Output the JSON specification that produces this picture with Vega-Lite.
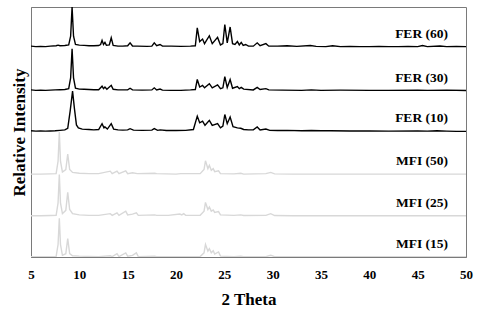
{
"$schema": "https://vega.github.io/schema/vega-lite/v6.json",
"width": 435, "height": 250,
"autosize": {"type": "none"},
"padding": {"left": 31, "top": 7, "right": 14, "bottom": 57},
"background": "white",
"config": {"view": {"stroke": "#7a7a7a", "strokeWidth": 1}, "font": "Liberation Serif"},
"data": {"values": [
{"s":"FER (60)","x":5.0,"y":5.06},{"s":"FER (60)","x":5.5,"y":5.05},{"s":"FER (60)","x":6.0,"y":5.055},{"s":"FER (60)","x":6.5,"y":5.05},{"s":"FER (60)","x":7.0,"y":5.06},{"s":"FER (60)","x":7.6,"y":5.07},{"s":"FER (60)","x":7.8,"y":5.085},{"s":"FER (60)","x":8.0,"y":5.07},{"s":"FER (60)","x":8.5,"y":5.075},{"s":"FER (60)","x":8.9,"y":5.09},{"s":"FER (60)","x":9.1,"y":5.3},{"s":"FER (60)","x":9.25,"y":6.0},{"s":"FER (60)","x":9.4,"y":5.3},{"s":"FER (60)","x":9.6,"y":5.1},{"s":"FER (60)","x":10.0,"y":5.085},{"s":"FER (60)","x":10.5,"y":5.08},{"s":"FER (60)","x":11.0,"y":5.07},{"s":"FER (60)","x":11.5,"y":5.07},{"s":"FER (60)","x":12.0,"y":5.075},{"s":"FER (60)","x":12.2,"y":5.1},{"s":"FER (60)","x":12.35,"y":5.2},{"s":"FER (60)","x":12.5,"y":5.1},{"s":"FER (60)","x":12.65,"y":5.15},{"s":"FER (60)","x":12.8,"y":5.08},{"s":"FER (60)","x":13.1,"y":5.09},{"s":"FER (60)","x":13.3,"y":5.26},{"s":"FER (60)","x":13.5,"y":5.08},{"s":"FER (60)","x":14.0,"y":5.06},{"s":"FER (60)","x":14.5,"y":5.06},{"s":"FER (60)","x":15.0,"y":5.07},{"s":"FER (60)","x":15.25,"y":5.14},{"s":"FER (60)","x":15.5,"y":5.065},{"s":"FER (60)","x":16.0,"y":5.06},{"s":"FER (60)","x":17.0,"y":5.055},{"s":"FER (60)","x":17.5,"y":5.06},{"s":"FER (60)","x":17.75,"y":5.14},{"s":"FER (60)","x":18.0,"y":5.07},{"s":"FER (60)","x":18.35,"y":5.1},{"s":"FER (60)","x":18.6,"y":5.06},{"s":"FER (60)","x":19.5,"y":5.06},{"s":"FER (60)","x":20.5,"y":5.055},{"s":"FER (60)","x":21.5,"y":5.06},{"s":"FER (60)","x":22.0,"y":5.07},{"s":"FER (60)","x":22.2,"y":5.5},{"s":"FER (60)","x":22.45,"y":5.17},{"s":"FER (60)","x":22.75,"y":5.23},{"s":"FER (60)","x":22.95,"y":5.12},{"s":"FER (60)","x":23.45,"y":5.31},{"s":"FER (60)","x":23.75,"y":5.12},{"s":"FER (60)","x":24.3,"y":5.27},{"s":"FER (60)","x":24.6,"y":5.09},{"s":"FER (60)","x":24.85,"y":5.12},{"s":"FER (60)","x":25.05,"y":5.58},{"s":"FER (60)","x":25.3,"y":5.14},{"s":"FER (60)","x":25.6,"y":5.52},{"s":"FER (60)","x":25.85,"y":5.12},{"s":"FER (60)","x":26.1,"y":5.1},{"s":"FER (60)","x":26.35,"y":5.17},{"s":"FER (60)","x":26.55,"y":5.09},{"s":"FER (60)","x":26.75,"y":5.15},{"s":"FER (60)","x":26.95,"y":5.08},{"s":"FER (60)","x":27.2,"y":5.1},{"s":"FER (60)","x":27.5,"y":5.06},{"s":"FER (60)","x":28.0,"y":5.06},{"s":"FER (60)","x":28.4,"y":5.14},{"s":"FER (60)","x":28.7,"y":5.07},{"s":"FER (60)","x":29.3,"y":5.12},{"s":"FER (60)","x":29.6,"y":5.06},{"s":"FER (60)","x":30.5,"y":5.06},{"s":"FER (60)","x":31.5,"y":5.07},{"s":"FER (60)","x":32.5,"y":5.055},{"s":"FER (60)","x":33.9,"y":5.075},{"s":"FER (60)","x":34.5,"y":5.055},{"s":"FER (60)","x":35.5,"y":5.05},{"s":"FER (60)","x":36.2,"y":5.07},{"s":"FER (60)","x":37.0,"y":5.05},{"s":"FER (60)","x":38.0,"y":5.055},{"s":"FER (60)","x":39.0,"y":5.05},{"s":"FER (60)","x":40.0,"y":5.05},{"s":"FER (60)","x":41.0,"y":5.055},{"s":"FER (60)","x":42.0,"y":5.05},{"s":"FER (60)","x":43.0,"y":5.05},{"s":"FER (60)","x":44.0,"y":5.055},{"s":"FER (60)","x":45.0,"y":5.05},{"s":"FER (60)","x":45.5,"y":5.075},{"s":"FER (60)","x":46.0,"y":5.05},{"s":"FER (60)","x":47.3,"y":5.065},{"s":"FER (60)","x":48.0,"y":5.05},{"s":"FER (60)","x":49.0,"y":5.055},{"s":"FER (60)","x":50.0,"y":5.05},
{"s":"FER (30)","x":5.0,"y":4.01},{"s":"FER (30)","x":5.5,"y":4.0},{"s":"FER (30)","x":6.0,"y":4.005},{"s":"FER (30)","x":6.5,"y":4.0},{"s":"FER (30)","x":7.0,"y":4.005},{"s":"FER (30)","x":7.5,"y":4.01},{"s":"FER (30)","x":8.0,"y":4.015},{"s":"FER (30)","x":8.5,"y":4.02},{"s":"FER (30)","x":8.9,"y":4.04},{"s":"FER (30)","x":9.1,"y":4.3},{"s":"FER (30)","x":9.25,"y":5.0},{"s":"FER (30)","x":9.4,"y":4.3},{"s":"FER (30)","x":9.6,"y":4.05},{"s":"FER (30)","x":10.0,"y":4.03},{"s":"FER (30)","x":10.5,"y":4.025},{"s":"FER (30)","x":11.0,"y":4.02},{"s":"FER (30)","x":11.5,"y":4.015},{"s":"FER (30)","x":12.0,"y":4.015},{"s":"FER (30)","x":12.35,"y":4.1},{"s":"FER (30)","x":12.5,"y":4.04},{"s":"FER (30)","x":12.65,"y":4.08},{"s":"FER (30)","x":12.85,"y":4.025},{"s":"FER (30)","x":13.3,"y":4.12},{"s":"FER (30)","x":13.5,"y":4.025},{"s":"FER (30)","x":14.0,"y":4.01},{"s":"FER (30)","x":15.0,"y":4.01},{"s":"FER (30)","x":15.25,"y":4.05},{"s":"FER (30)","x":15.5,"y":4.01},{"s":"FER (30)","x":16.5,"y":4.005},{"s":"FER (30)","x":17.5,"y":4.01},{"s":"FER (30)","x":17.75,"y":4.06},{"s":"FER (30)","x":18.0,"y":4.01},{"s":"FER (30)","x":18.35,"y":4.03},{"s":"FER (30)","x":18.6,"y":4.005},{"s":"FER (30)","x":19.5,"y":4.0},{"s":"FER (30)","x":20.5,"y":4.0},{"s":"FER (30)","x":21.5,"y":4.01},{"s":"FER (30)","x":22.0,"y":4.02},{"s":"FER (30)","x":22.2,"y":4.26},{"s":"FER (30)","x":22.45,"y":4.08},{"s":"FER (30)","x":22.75,"y":4.12},{"s":"FER (30)","x":22.95,"y":4.06},{"s":"FER (30)","x":23.45,"y":4.16},{"s":"FER (30)","x":23.75,"y":4.06},{"s":"FER (30)","x":24.3,"y":4.13},{"s":"FER (30)","x":24.6,"y":4.04},{"s":"FER (30)","x":24.85,"y":4.06},{"s":"FER (30)","x":25.05,"y":4.33},{"s":"FER (30)","x":25.3,"y":4.07},{"s":"FER (30)","x":25.6,"y":4.26},{"s":"FER (30)","x":25.85,"y":4.05},{"s":"FER (30)","x":26.35,"y":4.09},{"s":"FER (30)","x":26.55,"y":4.04},{"s":"FER (30)","x":26.75,"y":4.07},{"s":"FER (30)","x":27.0,"y":4.03},{"s":"FER (30)","x":28.0,"y":4.01},{"s":"FER (30)","x":28.4,"y":4.07},{"s":"FER (30)","x":28.7,"y":4.02},{"s":"FER (30)","x":29.3,"y":4.04},{"s":"FER (30)","x":29.6,"y":4.01},{"s":"FER (30)","x":31.0,"y":4.005},{"s":"FER (30)","x":33.0,"y":4.0},{"s":"FER (30)","x":34.0,"y":4.01},{"s":"FER (30)","x":35.0,"y":4.0},{"s":"FER (30)","x":37.0,"y":4.005},{"s":"FER (30)","x":40.0,"y":4.0},{"s":"FER (30)","x":42.0,"y":4.0},{"s":"FER (30)","x":45.0,"y":4.005},{"s":"FER (30)","x":46.0,"y":4.0},{"s":"FER (30)","x":48.0,"y":4.005},{"s":"FER (30)","x":50.0,"y":3.995},
{"s":"FER (10)","x":5.0,"y":3.03},{"s":"FER (10)","x":5.5,"y":3.02},{"s":"FER (10)","x":6.0,"y":3.025},{"s":"FER (10)","x":6.5,"y":3.02},{"s":"FER (10)","x":7.0,"y":3.025},{"s":"FER (10)","x":7.5,"y":3.03},{"s":"FER (10)","x":8.0,"y":3.04},{"s":"FER (10)","x":8.5,"y":3.05},{"s":"FER (10)","x":8.8,"y":3.09},{"s":"FER (10)","x":9.05,"y":3.5},{"s":"FER (10)","x":9.3,"y":3.98},{"s":"FER (10)","x":9.5,"y":3.55},{"s":"FER (10)","x":9.7,"y":3.17},{"s":"FER (10)","x":9.9,"y":3.1},{"s":"FER (10)","x":10.3,"y":3.07},{"s":"FER (10)","x":11.0,"y":3.06},{"s":"FER (10)","x":11.5,"y":3.05},{"s":"FER (10)","x":12.0,"y":3.06},{"s":"FER (10)","x":12.35,"y":3.2},{"s":"FER (10)","x":12.55,"y":3.1},{"s":"FER (10)","x":12.65,"y":3.12},{"s":"FER (10)","x":12.9,"y":3.07},{"s":"FER (10)","x":13.3,"y":3.2},{"s":"FER (10)","x":13.55,"y":3.07},{"s":"FER (10)","x":14.0,"y":3.05},{"s":"FER (10)","x":14.5,"y":3.045},{"s":"FER (10)","x":15.0,"y":3.05},{"s":"FER (10)","x":15.25,"y":3.08},{"s":"FER (10)","x":15.6,"y":3.045},{"s":"FER (10)","x":16.5,"y":3.04},{"s":"FER (10)","x":17.5,"y":3.045},{"s":"FER (10)","x":17.75,"y":3.08},{"s":"FER (10)","x":18.1,"y":3.04},{"s":"FER (10)","x":18.35,"y":3.05},{"s":"FER (10)","x":19.0,"y":3.035},{"s":"FER (10)","x":20.0,"y":3.035},{"s":"FER (10)","x":21.0,"y":3.04},{"s":"FER (10)","x":21.8,"y":3.06},{"s":"FER (10)","x":22.2,"y":3.38},{"s":"FER (10)","x":22.45,"y":3.22},{"s":"FER (10)","x":22.75,"y":3.26},{"s":"FER (10)","x":23.0,"y":3.16},{"s":"FER (10)","x":23.45,"y":3.28},{"s":"FER (10)","x":23.75,"y":3.16},{"s":"FER (10)","x":24.3,"y":3.2},{"s":"FER (10)","x":24.6,"y":3.1},{"s":"FER (10)","x":24.85,"y":3.14},{"s":"FER (10)","x":25.05,"y":3.42},{"s":"FER (10)","x":25.3,"y":3.2},{"s":"FER (10)","x":25.6,"y":3.36},{"s":"FER (10)","x":25.9,"y":3.13},{"s":"FER (10)","x":26.35,"y":3.1},{"s":"FER (10)","x":26.7,"y":3.09},{"s":"FER (10)","x":27.0,"y":3.06},{"s":"FER (10)","x":27.5,"y":3.05},{"s":"FER (10)","x":28.0,"y":3.055},{"s":"FER (10)","x":28.4,"y":3.12},{"s":"FER (10)","x":28.7,"y":3.05},{"s":"FER (10)","x":29.3,"y":3.07},{"s":"FER (10)","x":29.7,"y":3.04},{"s":"FER (10)","x":30.5,"y":3.035},{"s":"FER (10)","x":31.5,"y":3.04},{"s":"FER (10)","x":33.0,"y":3.03},{"s":"FER (10)","x":34.0,"y":3.035},{"s":"FER (10)","x":35.0,"y":3.03},{"s":"FER (10)","x":36.0,"y":3.03},{"s":"FER (10)","x":38.0,"y":3.025},{"s":"FER (10)","x":40.0,"y":3.025},{"s":"FER (10)","x":42.0,"y":3.02},{"s":"FER (10)","x":45.0,"y":3.025},{"s":"FER (10)","x":46.0,"y":3.02},{"s":"FER (10)","x":47.0,"y":3.03},{"s":"FER (10)","x":48.0,"y":3.02},{"s":"FER (10)","x":49.0,"y":3.015},{"s":"FER (10)","x":50.0,"y":3.015},
{"s":"MFI (50)","x":5.0,"y":1.99},{"s":"MFI (50)","x":6.0,"y":1.99},{"s":"MFI (50)","x":7.0,"y":1.995},{"s":"MFI (50)","x":7.6,"y":2.0},{"s":"MFI (50)","x":7.8,"y":2.3},{"s":"MFI (50)","x":7.93,"y":3.0},{"s":"MFI (50)","x":8.05,"y":2.3},{"s":"MFI (50)","x":8.25,"y":2.04},{"s":"MFI (50)","x":8.6,"y":2.1},{"s":"MFI (50)","x":8.8,"y":2.47},{"s":"MFI (50)","x":9.0,"y":2.1},{"s":"MFI (50)","x":9.3,"y":2.03},{"s":"MFI (50)","x":10.0,"y":2.01},{"s":"MFI (50)","x":11.0,"y":2.0},{"s":"MFI (50)","x":12.0,"y":2.0},{"s":"MFI (50)","x":13.2,"y":2.06},{"s":"MFI (50)","x":13.4,"y":2.0},{"s":"MFI (50)","x":13.9,"y":2.06},{"s":"MFI (50)","x":14.1,"y":2.0},{"s":"MFI (50)","x":14.8,"y":2.07},{"s":"MFI (50)","x":15.0,"y":2.0},{"s":"MFI (50)","x":15.5,"y":2.02},{"s":"MFI (50)","x":16.0,"y":2.0},{"s":"MFI (50)","x":17.8,"y":2.01},{"s":"MFI (50)","x":18.0,"y":2.0},{"s":"MFI (50)","x":20.0,"y":1.99},{"s":"MFI (50)","x":20.5,"y":2.0},{"s":"MFI (50)","x":22.5,"y":2.0},{"s":"MFI (50)","x":22.9,"y":2.1},{"s":"MFI (50)","x":23.05,"y":2.31},{"s":"MFI (50)","x":23.3,"y":2.12},{"s":"MFI (50)","x":23.45,"y":2.2},{"s":"MFI (50)","x":23.65,"y":2.08},{"s":"MFI (50)","x":23.85,"y":2.12},{"s":"MFI (50)","x":24.0,"y":2.05},{"s":"MFI (50)","x":24.4,"y":2.07},{"s":"MFI (50)","x":24.6,"y":2.0},{"s":"MFI (50)","x":26.0,"y":1.995},{"s":"MFI (50)","x":26.7,"y":2.01},{"s":"MFI (50)","x":27.0,"y":1.99},{"s":"MFI (50)","x":29.3,"y":2.0},{"s":"MFI (50)","x":29.8,"y":2.03},{"s":"MFI (50)","x":30.2,"y":1.995},{"s":"MFI (50)","x":32.0,"y":1.99},{"s":"MFI (50)","x":35.0,"y":1.99},{"s":"MFI (50)","x":40.0,"y":1.99},{"s":"MFI (50)","x":45.0,"y":1.99},{"s":"MFI (50)","x":50.0,"y":1.99},
{"s":"MFI (25)","x":5.0,"y":0.99},{"s":"MFI (25)","x":6.0,"y":0.99},{"s":"MFI (25)","x":7.0,"y":0.995},{"s":"MFI (25)","x":7.6,"y":1.0},{"s":"MFI (25)","x":7.8,"y":1.3},{"s":"MFI (25)","x":7.93,"y":1.98},{"s":"MFI (25)","x":8.05,"y":1.3},{"s":"MFI (25)","x":8.25,"y":1.04},{"s":"MFI (25)","x":8.6,"y":1.12},{"s":"MFI (25)","x":8.8,"y":1.55},{"s":"MFI (25)","x":9.0,"y":1.14},{"s":"MFI (25)","x":9.3,"y":1.04},{"s":"MFI (25)","x":10.0,"y":1.01},{"s":"MFI (25)","x":11.0,"y":1.0},{"s":"MFI (25)","x":12.0,"y":1.0},{"s":"MFI (25)","x":13.2,"y":1.04},{"s":"MFI (25)","x":13.4,"y":1.0},{"s":"MFI (25)","x":13.9,"y":1.06},{"s":"MFI (25)","x":14.1,"y":1.0},{"s":"MFI (25)","x":14.8,"y":1.1},{"s":"MFI (25)","x":15.0,"y":1.01},{"s":"MFI (25)","x":15.5,"y":1.03},{"s":"MFI (25)","x":15.9,"y":1.06},{"s":"MFI (25)","x":16.1,"y":1.0},{"s":"MFI (25)","x":17.8,"y":1.01},{"s":"MFI (25)","x":18.0,"y":1.0},{"s":"MFI (25)","x":19.2,"y":1.0},{"s":"MFI (25)","x":20.4,"y":1.03},{"s":"MFI (25)","x":20.6,"y":1.01},{"s":"MFI (25)","x":20.8,"y":1.04},{"s":"MFI (25)","x":21.0,"y":1.0},{"s":"MFI (25)","x":22.5,"y":1.0},{"s":"MFI (25)","x":22.9,"y":1.1},{"s":"MFI (25)","x":23.05,"y":1.31},{"s":"MFI (25)","x":23.3,"y":1.14},{"s":"MFI (25)","x":23.45,"y":1.2},{"s":"MFI (25)","x":23.65,"y":1.1},{"s":"MFI (25)","x":23.85,"y":1.13},{"s":"MFI (25)","x":24.0,"y":1.07},{"s":"MFI (25)","x":24.4,"y":1.09},{"s":"MFI (25)","x":24.6,"y":1.01},{"s":"MFI (25)","x":26.0,"y":1.0},{"s":"MFI (25)","x":26.7,"y":1.01},{"s":"MFI (25)","x":27.0,"y":0.995},{"s":"MFI (25)","x":29.3,"y":1.0},{"s":"MFI (25)","x":29.8,"y":1.04},{"s":"MFI (25)","x":30.2,"y":0.995},{"s":"MFI (25)","x":32.0,"y":0.99},{"s":"MFI (25)","x":35.0,"y":0.99},{"s":"MFI (25)","x":40.0,"y":0.99},{"s":"MFI (25)","x":45.0,"y":0.99},{"s":"MFI (25)","x":50.0,"y":0.99},
{"s":"MFI (15)","x":5.0,"y":0.01},{"s":"MFI (15)","x":6.0,"y":0.01},{"s":"MFI (15)","x":7.0,"y":0.01},{"s":"MFI (15)","x":7.6,"y":0.015},{"s":"MFI (15)","x":7.8,"y":0.3},{"s":"MFI (15)","x":7.93,"y":0.93},{"s":"MFI (15)","x":8.05,"y":0.3},{"s":"MFI (15)","x":8.25,"y":0.04},{"s":"MFI (15)","x":8.6,"y":0.08},{"s":"MFI (15)","x":8.8,"y":0.44},{"s":"MFI (15)","x":9.0,"y":0.08},{"s":"MFI (15)","x":9.3,"y":0.03},{"s":"MFI (15)","x":10.0,"y":0.02},{"s":"MFI (15)","x":12.0,"y":0.01},{"s":"MFI (15)","x":13.2,"y":0.03},{"s":"MFI (15)","x":13.4,"y":0.01},{"s":"MFI (15)","x":13.9,"y":0.08},{"s":"MFI (15)","x":14.1,"y":0.01},{"s":"MFI (15)","x":14.8,"y":0.1},{"s":"MFI (15)","x":15.0,"y":0.02},{"s":"MFI (15)","x":15.5,"y":0.04},{"s":"MFI (15)","x":15.9,"y":0.1},{"s":"MFI (15)","x":16.1,"y":0.01},{"s":"MFI (15)","x":17.8,"y":0.02},{"s":"MFI (15)","x":18.0,"y":0.01},{"s":"MFI (15)","x":20.5,"y":0.01},{"s":"MFI (15)","x":22.5,"y":0.01},{"s":"MFI (15)","x":22.9,"y":0.1},{"s":"MFI (15)","x":23.05,"y":0.3},{"s":"MFI (15)","x":23.3,"y":0.14},{"s":"MFI (15)","x":23.45,"y":0.2},{"s":"MFI (15)","x":23.65,"y":0.1},{"s":"MFI (15)","x":23.85,"y":0.15},{"s":"MFI (15)","x":24.0,"y":0.07},{"s":"MFI (15)","x":24.4,"y":0.12},{"s":"MFI (15)","x":24.6,"y":0.02},{"s":"MFI (15)","x":26.0,"y":0.01},{"s":"MFI (15)","x":26.7,"y":0.02},{"s":"MFI (15)","x":27.0,"y":0.01},{"s":"MFI (15)","x":29.3,"y":0.01},{"s":"MFI (15)","x":29.8,"y":0.04},{"s":"MFI (15)","x":30.2,"y":0.01},{"s":"MFI (15)","x":35.0,"y":0.01},{"s":"MFI (15)","x":40.0,"y":0.01},{"s":"MFI (15)","x":45.0,"y":0.01},{"s":"MFI (15)","x":50.0,"y":0.01}
]},
"encoding": {
  "x": {"field": "x", "type": "quantitative",
        "scale": {"domain": [5, 50], "nice": false, "zero": false},
        "axis": {"values": [5,10,15,20,25,30,35,40,45,50], "format": "d", "grid": false, "ticks": false,
                 "domainColor": "#7a7a7a", "labelFont": "Liberation Serif", "labelFontSize": 13, "labelFontWeight": "bold",
                 "labelColor": "#000", "labelPadding": 11, "labelFlush": false,
                 "title": "2 Theta", "titleFont": "Liberation Serif", "titleFontSize": 17, "titleFontWeight": "bold",
                 "titleColor": "#000", "titlePadding": 10}},
  "y": {"field": "y", "type": "quantitative",
        "scale": {"domain": [0, 6], "nice": false, "zero": false},
        "axis": {"grid": false, "ticks": false, "labels": false, "domainColor": "#7a7a7a",
                 "title": "Relative Intensity", "titleFont": "Liberation Serif", "titleFontSize": 17, "titleFontWeight": "bold",
                 "titleColor": "#000", "titlePadding": 3}}
},
"layer": [
  {"mark": {"type": "line", "clip": true, "interpolate": "linear"},
   "encoding": {
     "color": {"field": "s", "type": "nominal",
               "scale": {"domain": ["FER (60)","FER (30)","FER (10)","MFI (50)","MFI (25)","MFI (15)"],
                         "range": ["#000000","#000000","#000000","#d8d8d8","#d8d8d8","#d8d8d8"]},
               "legend": null},
     "strokeWidth": {"field": "s", "type": "nominal",
               "scale": {"domain": ["FER (60)","FER (30)","FER (10)","MFI (50)","MFI (25)","MFI (15)"],
                         "range": [1.4, 1.4, 1.4, 1.1, 1.1, 1.1]},
               "legend": null}
   }},
  {"transform": [{"filter": "datum.x == 50"}],
   "mark": {"type": "text", "align": "right", "baseline": "alphabetic", "dx": -18, "dy": -9,
            "font": "Liberation Serif", "fontSize": 13.5, "fontWeight": "bold", "color": "#000"},
   "encoding": {"text": {"field": "s"}}}
]
}
